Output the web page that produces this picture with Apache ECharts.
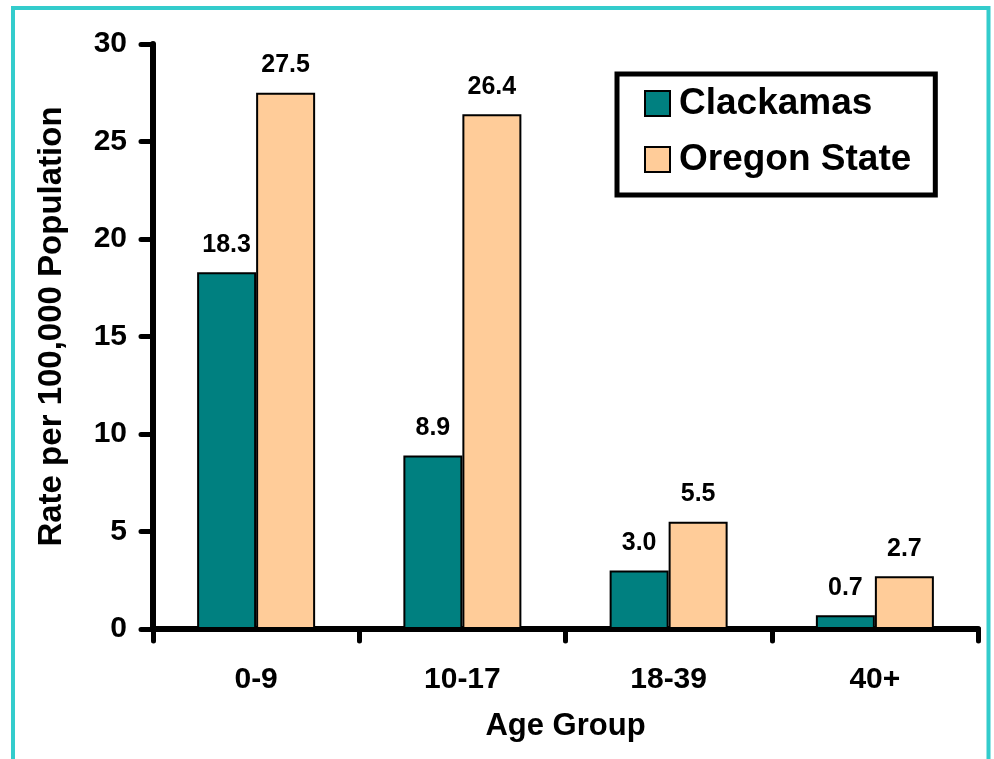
<!DOCTYPE html>
<html><head><meta charset="utf-8">
<script src="https://cdn.jsdelivr.net/npm/echarts@6/dist/echarts.min.js"></script>
<style>html,body{margin:0;padding:0;background:#fff}#c{width:994px;height:759px}</style>
</head><body><div id="c"></div>
<script>
const categories = ['0-9', '10-17', '18-39', '40+'];
const clackamas = [18.3, 8.9, 3.0, 0.7];
const oregonState = [27.5, 26.4, 5.5, 2.7];
const seriesNames = ['Clackamas', 'Oregon State'];
const yTicks = { min: 0, max: 30, interval: 5 };
const FONT = '"Liberation Sans", Arial, sans-serif';

const chart = echarts.init(document.getElementById('c'), null, { renderer: 'canvas' });
const axisLineStyle = { color: '#000', width: 6, cap: 'round' };
const labelStyle = { show: true, position: 'top', distance: 15, color: '#000', fontFamily: FONT, fontWeight: 'bold', fontSize: 25, formatter: p => p.value.toFixed(1) };
chart.setOption({
  animation: false,
  backgroundColor: '#fff',
  graphic: [{ type: 'rect', shape: { x: 13, y: 8, width: 975.5, height: 800 }, style: { fill: 'none', stroke: '#33CCCC', lineWidth: 4 }, z: 100 }],
  grid: { left: 153, right: 16, top: 44, bottom: 130, containLabel: false },
  legend: {
    orient: 'vertical', left: 617, top: 74,
    padding: [11, 24, 17, 27],
    borderColor: '#000', borderWidth: 5, backgroundColor: '#fff',
    itemWidth: 25, itemHeight: 25, itemGap: 19,
    icon: 'rect',
    itemStyle: { borderColor: '#000', borderWidth: 2 },
    textStyle: { fontFamily: FONT, fontWeight: 'bold', fontSize: 37, color: '#000', padding: [0, 0, 0, 4] },
    data: seriesNames
  },
  xAxis: {
    type: 'category', data: categories,
    name: 'Age Group', nameLocation: 'middle', nameGap: 82,
    nameTextStyle: { fontFamily: FONT, fontWeight: 'bold', fontSize: 31, color: '#000' },
    axisLine: { lineStyle: axisLineStyle },
    axisTick: { show: true, length: 12, lineStyle: { color: '#000', width: 5, cap: 'round' } },
    axisLabel: { margin: 36, fontFamily: FONT, fontWeight: 'bold', fontSize: 30, color: '#000' }
  },
  yAxis: {
    type: 'value', min: yTicks.min, max: yTicks.max, interval: yTicks.interval,
    name: 'Rate per 100,000 Population', nameLocation: 'middle', nameGap: 85,
    nameTextStyle: { fontFamily: FONT, fontWeight: 'bold', fontSize: 33, color: '#000', padding: [0, 0, 0, 20] },
    splitLine: { show: false },
    axisLine: { show: true, lineStyle: axisLineStyle },
    axisTick: { show: true, length: 12, lineStyle: { color: '#000', width: 5, cap: 'round' } },
    axisLabel: { margin: 26, fontFamily: FONT, fontWeight: 'bold', fontSize: 30, color: '#000' }
  },
  series: [
    { name: seriesNames[0], type: 'bar', data: clackamas, barWidth: 59, barGap: '0%',
      itemStyle: { color: '#008080', borderColor: '#000', borderWidth: 2 }, label: labelStyle },
    { name: seriesNames[1], type: 'bar', data: oregonState, barWidth: 59, barGap: '0%',
      itemStyle: { color: '#FFCC99', borderColor: '#000', borderWidth: 2 }, label: labelStyle }
  ]
});
</script></body></html>
